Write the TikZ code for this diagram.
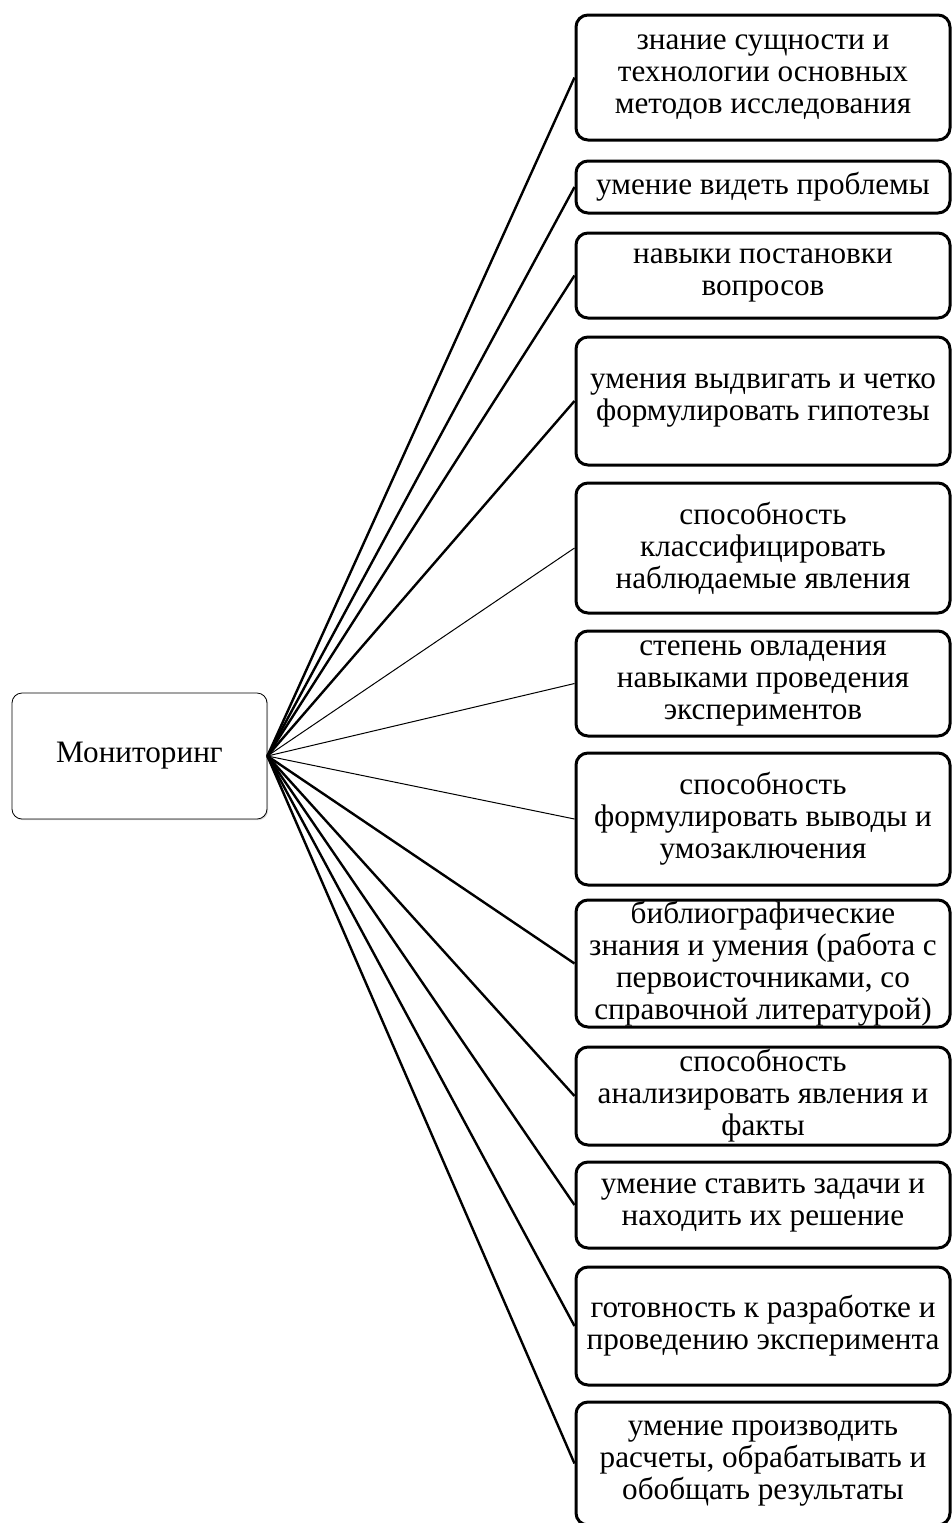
\documentclass[tikz,border=0pt]{standalone}
\usepackage{fontspec}
\setmainfont{Liberation Serif}
\usetikzlibrary{shadows}

\begin{document}
\begin{tikzpicture}[x = 0.5pt, y = -0.5pt,
		item/.style = {draw, line width = 1.5pt, rounded corners = 6pt, minimum width = 187pt, align = center, inner sep = 0pt, font = \fontsize{15.6}{16}\selectfont},
		root/.style = {draw, line width = 0.4pt, rounded corners = 5pt, minimum width = 127.5pt, minimum height = 63pt, fill = white, font = \fontsize{15.6}{16}\selectfont, drop shadow = {shadow xshift = 0.6pt, shadow yshift = -0.6pt, opacity = 0.3}},
		thick link/.style = {line width = 1.2pt},
		thin link/.style = {line width = 0.5pt}]
		
		\useasboundingbox (0,0) rectangle (952,1523);
		
		\begin{scope}
			\node [root] (monitoring) at (139.5,756) {Мониторинг};
		\end{scope}
		
		\begin{scope}
			\node [item, minimum height = 62.5pt] (knowledge) at (763,77.5) {знание сущности и\\технологии основных\\методов исследования};
			\node [item, minimum height = 26pt] (problems) at (763,187) {умение видеть проблемы};
			\node [item, minimum height = 42.5pt] (questions) at (763,275.5) {навыки постановки\\вопросов};
			\node [item, minimum height = 64pt] (hypotheses) at (763,401) {умения выдвигать и четко\\формулировать гипотезы};
			\node [item, minimum height = 65pt] (classify) at (763,548) {способность\\классифицировать\\наблюдаемые явления};
			\node [item, minimum height = 52.5pt] (experiments) at (763,683.5) {степень овладения\\навыками проведения\\экспериментов};
			\node [item, minimum height = 66pt] (conclusions) at (763,819) {способность\\формулировать выводы и\\умозаключения};
			\node [item, minimum height = 63.5pt] (biblio) at (763,963.5) {библиографические\\знания и умения (работа с\\первоисточниками, со\\справочной литературой)};
			\node [item, minimum height = 49pt] (analyse) at (763,1096) {способность\\анализировать явления и\\факты};
			\node [item, minimum height = 43pt] (tasks) at (763,1205) {умение ставить задачи и\\находить их решение};
			\node [item, minimum height = 59pt] (readiness) at (763,1326) {готовность к разработке и\\проведению эксперимента};
			\node [item, minimum height = 61.5pt] (results) at (763,1463.5) {умение производить\\расчеты, обрабатывать и\\обобщать результаты};
		\end{scope}
		
		\begin{scope}
			\draw [thick link] (monitoring.east) -- (knowledge.west);
			\draw [thick link] (monitoring.east) -- (problems.west);
			\draw [thick link] (monitoring.east) -- (questions.west);
			\draw [thick link] (monitoring.east) -- (hypotheses.west);
			\draw [thin link] (monitoring.east) -- (classify.west);
			\draw [thin link] (monitoring.east) -- (experiments.west);
			\draw [thin link] (monitoring.east) -- (conclusions.west);
			\draw [thick link] (monitoring.east) -- (biblio.west);
			\draw [thick link] (monitoring.east) -- (analyse.west);
			\draw [thick link] (monitoring.east) -- (tasks.west);
			\draw [thick link] (monitoring.east) -- (readiness.west);
			\draw [thick link] (monitoring.east) -- (results.west);
		\end{scope}
	\end{tikzpicture}
\end{document}
